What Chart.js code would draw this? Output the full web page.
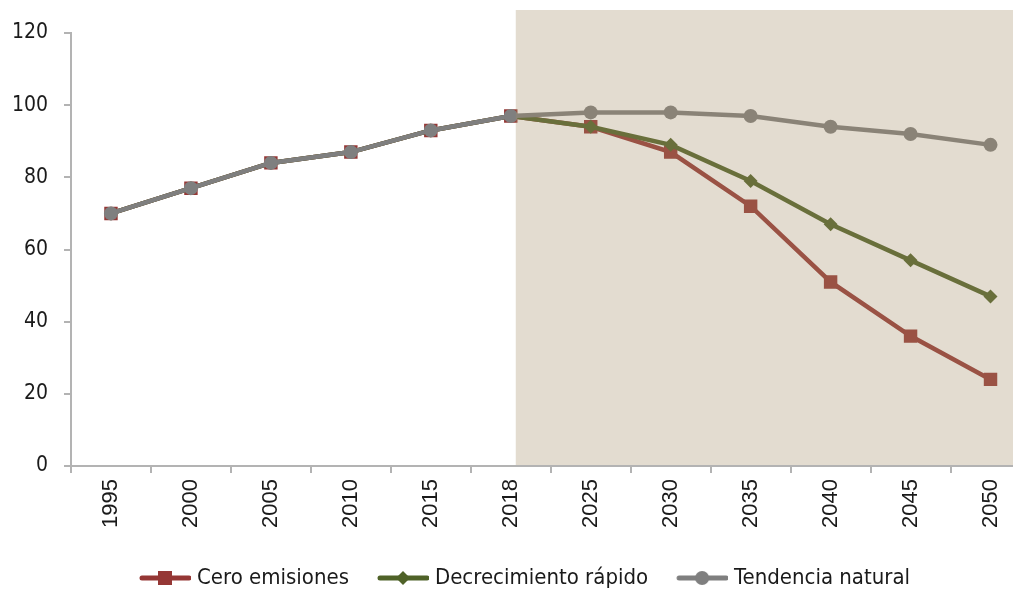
<!DOCTYPE html>
<html>
<head>
<meta charset="utf-8">
<script src="https://cdn.jsdelivr.net/npm/chart.js@4/dist/chart.umd.min.js"></script>
<style>
  html, body { margin: 0; padding: 0; background: #fff; overflow: hidden; width: 1013px; height: 589px; }
  #wrap { width: 1040px; height: 589px; }
</style>
</head>
<body>
<div id="wrap"><canvas id="chart"></canvas></div>
<script>
const years = ['1995', '2000', '2005', '2010', '2015', '2018', '2025', '2030', '2035', '2040', '2045', '2050'];
const ceroEmisiones = [70, 77, 84, 87, 93, 97, 94, 87, 72, 51, 36, 24];
const decrecimientoRapido = [70, 77, 84, 87, 93, 97, 94, 89, 79, 67, 57, 47];
const tendenciaNatural = [70, 77, 84, 87, 93, 97, 98, 98, 97, 94, 92, 89];
const yTicks = [0, 20, 40, 60, 80, 100, 120];
const scenarioStart = 5; // index of 2018, shaded area starts just after it

const RED = '#953735';
const GREEN = '#4f6228';
const GREY = '#7f7f7f';
const AXIS = '#b3b3b3';
const TEXT = '#1a1a1a';
const condensed = '"DejaVu Sans Condensed", "Liberation Sans Narrow", sans-serif';

// legend symbol: line with marker in the middle
function legendSymbol(color, style) {
  const c = document.createElement('canvas');
  c.width = 75;
  c.height = 16;
  const ctx = c.getContext('2d');
  ctx.strokeStyle = color;
  ctx.fillStyle = color;
  ctx.lineWidth = 5;
  ctx.lineCap = 'round';
  ctx.beginPath();
  ctx.moveTo(26, 8);
  ctx.lineTo(73, 8);
  ctx.stroke();
  const cx = 49;
  ctx.beginPath();
  if (style === 'rect') {
    ctx.rect(cx - 7, 1, 14, 14);
  } else if (style === 'rectRot') {
    ctx.moveTo(cx, 1); ctx.lineTo(cx + 7, 8); ctx.lineTo(cx, 15); ctx.lineTo(cx - 7, 8);
    ctx.closePath();
  } else {
    ctx.arc(cx, 8, 7, 0, Math.PI * 2);
  }
  ctx.fill();
  return c;
}

const shadePlugin = {
  id: 'shade',
  afterDatasetsDraw(chart) {
    const { ctx, chartArea, scales } = chart;
    const x0 = scales.x.getPixelForValue(scenarioStart) + 5;
    ctx.save();
    ctx.fillStyle = 'rgba(165, 142, 103, 0.31)';
    ctx.fillRect(x0, chartArea.top - 23, chartArea.right - x0 + 20, chartArea.bottom - chartArea.top + 22);
    ctx.restore();
  }
};

new Chart(document.getElementById('chart'), {
  type: 'line',
  data: {
    labels: years,
    datasets: [
      {
        label: 'Cero emisiones',
        data: ceroEmisiones,
        borderColor: RED,
        backgroundColor: RED,
        pointStyle: 'rect',
        pointRadius: 9.5,
        order: 2
      },
      {
        label: 'Decrecimiento rápido',
        data: decrecimientoRapido,
        borderColor: GREEN,
        backgroundColor: GREEN,
        pointStyle: 'rectRot',
        pointRadius: 7,
        order: 1
      },
      {
        label: 'Tendencia natural',
        data: tendenciaNatural,
        borderColor: GREY,
        backgroundColor: GREY,
        pointStyle: 'circle',
        pointRadius: 7,
        order: 0
      }
    ]
  },
  options: {
    responsive: true,
    maintainAspectRatio: false,
    animation: false,
    layout: { padding: { top: 33, right: 9, left: 0, bottom: -10 } },
    elements: {
      line: { borderWidth: 4.5, tension: 0 },
      point: { borderWidth: 0, hoverRadius: 7 }
    },
    plugins: {
      tooltip: { enabled: false },
      legend: {
        position: 'bottom',
        labels: {
          usePointStyle: true,
          pointStyleWidth: 65,
          padding: 10,
          color: TEXT,
          font: { family: condensed, size: 22 },
          sort: (a, b) => a.datasetIndex - b.datasetIndex,
          generateLabels(chart) {
            const styles = ['rect', 'rectRot', 'circle'];
            return chart.data.datasets.map((ds, i) => ({
              text: ds.label,
              datasetIndex: i,
              fontColor: TEXT,
              pointStyle: legendSymbol(ds.borderColor, styles[i]),
              hidden: false,
              lineWidth: 0
            }));
          }
        }
      }
    },
    scales: {
      x: {
        offset: true,
        afterFit(scale) { scale.height = 91; },
        grid: { display: true, drawOnChartArea: false, drawTicks: true, tickLength: 7, color: AXIS, lineWidth: 2, offset: true },
        border: { display: true, color: AXIS, width: 2 },
        ticks: {
          color: TEXT,
          minRotation: 90,
          maxRotation: 90,
          padding: 6,
          font: { family: '"Liberation Sans", Arial, sans-serif', size: 22 }
        }
      },
      y: {
        min: 0,
        max: 120,
        afterFit(scale) { scale.width = 71; },
        afterBuildTicks(scale) { scale.ticks = yTicks.map(v => ({ value: v })); },
        grid: { display: true, drawOnChartArea: false, drawTicks: true, tickLength: 7, color: AXIS, lineWidth: 2 },
        border: { display: true, color: AXIS, width: 2 },
        ticks: {
          color: TEXT,
          padding: 16,
          font: { family: condensed, size: 21 }
        }
      }
    }
  },
  plugins: [shadePlugin]
});
</script>
</body>
</html>
